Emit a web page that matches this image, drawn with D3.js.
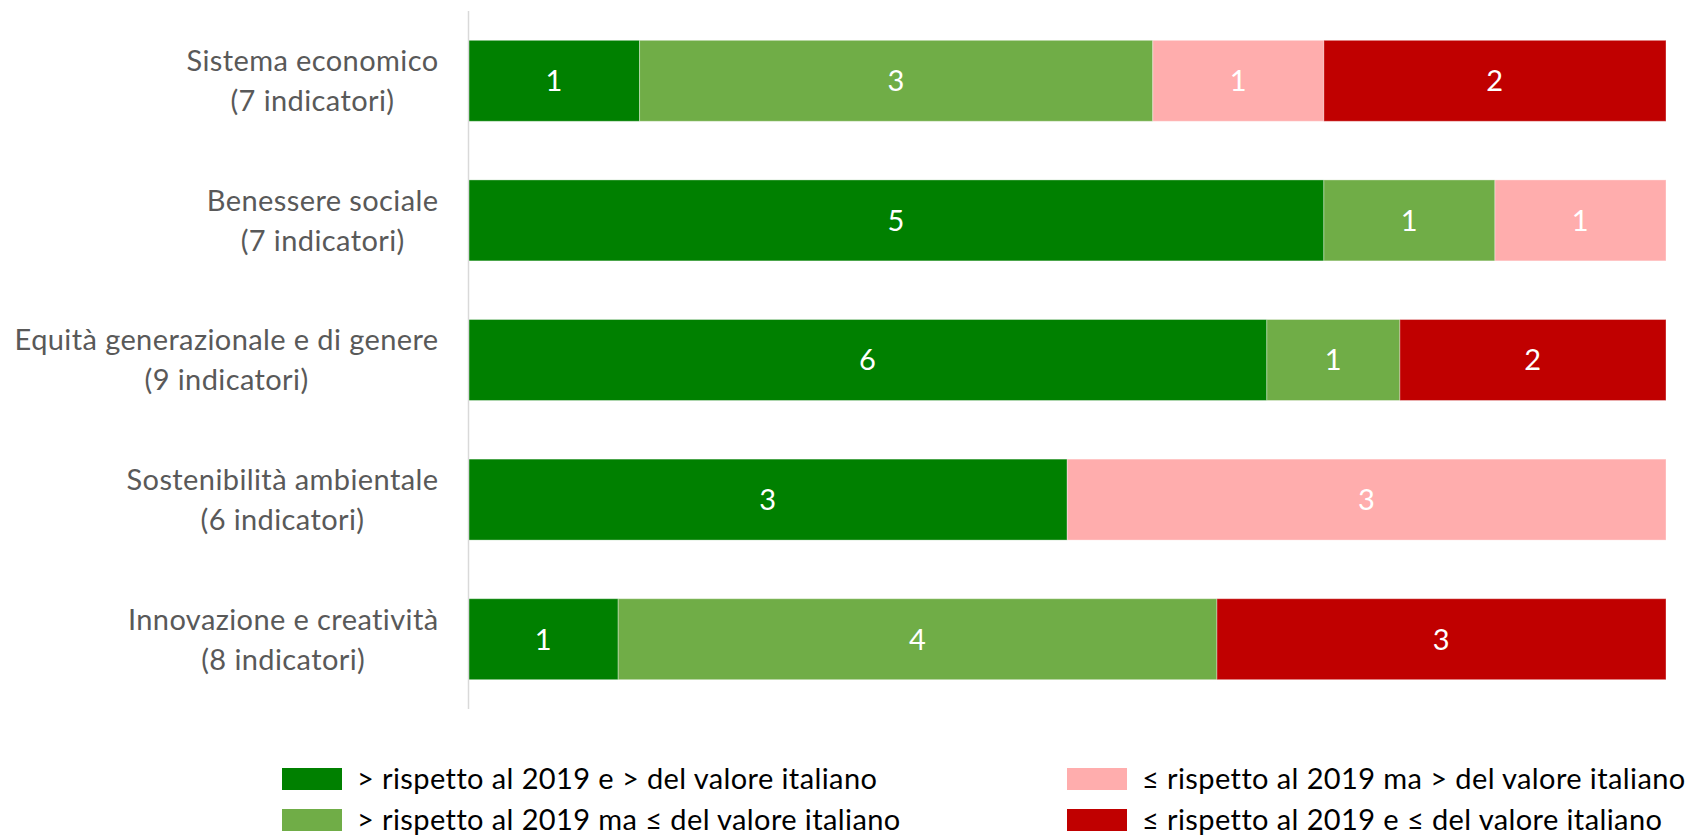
<!DOCTYPE html>
<html>
<head>
<meta charset="utf-8">
<script src="https://cdn.jsdelivr.net/npm/d3@7"></script>
<style>
  body { margin: 0; background: #fff; }
  svg text { font-family: Lato, "Open Sans", sans-serif; font-size: 29px; letter-spacing: 0.4px; }
</style>
</head>
<body>
<div id="chart"></div>
<script>
// dati
const categories = ["Sistema economico", "Benessere sociale", "Equità generazionale e di genere", "Sostenibilità ambientale", "Innovazione e creatività"];
const subLabels = ["(7 indicatori)", "(7 indicatori)", "(9 indicatori)", "(6 indicatori)", "(8 indicatori)"];
const seriesKeys = ["s1", "s2", "s3", "s4"];
const seriesNames = [
    "> rispetto al 2019 e > del valore italiano",
    "> rispetto al 2019 ma ≤ del valore italiano",
    "≤ rispetto al 2019 ma > del valore italiano",
    "≤ rispetto al 2019 e ≤ del valore italiano"
];
const meglioEntrambi = [1, 5, 6, 3, 1];
const meglioSoloTempo = [3, 1, 1, 0, 4];
const meglioSoloItalia = [1, 1, 0, 3, 0];
const peggioEntrambi = [2, 0, 2, 0, 3];
const colors = ["#008000", "#70AD47", "#FFADAD", "#C00000"];

const W = 1685, H = 837;
const margin = { top: 11, right: 19, bottom: 128, left: 468.5 };

const table = categories.map((c, i) => ({
    cat: c, s1: meglioEntrambi[i], s2: meglioSoloTempo[i], s3: meglioSoloItalia[i], s4: peggioEntrambi[i]
}));

const svg = d3.select("#chart").append("svg")
    .attr("width", W).attr("height", H);

const x = d3.scaleLinear().domain([0, 1]).range([margin.left, W - margin.right]);
const y = d3.scaleBand().domain(categories)
    .range([margin.top, H - margin.bottom])
    .paddingInner(0.42).paddingOuter(0.21);
const z = d3.scaleOrdinal().domain(seriesKeys).range(colors);

const stack = d3.stack().keys(seriesKeys).offset(d3.stackOffsetExpand);
const stacked = stack(table);

// barre
const groups = svg.append("g").selectAll("g")
    .data(stacked).join("g")
    .attr("fill", d => z(d.key));

groups.selectAll("rect")
    .data(d => d.filter(p => p[1] - p[0] > 0))
    .join("rect")
    .attr("x", d => x(d[0]))
    .attr("y", d => y(d.data.cat))
    .attr("width", d => x(d[1]) - x(d[0]))
    .attr("height", y.bandwidth())
    .attr("stroke", "#ffffff")
    .attr("stroke-opacity", 0.35)
    .attr("stroke-width", 1);

// etichette valori
groups.selectAll("text")
    .data(d => d.filter(p => p[1] - p[0] > 0).map(p => Object.assign(p, { key: d.key })))
    .join("text")
    .attr("x", d => (x(d[0]) + x(d[1])) / 2)
    .attr("y", d => y(d.data.cat) + y.bandwidth() / 2)
    .attr("dy", "0.36em")
    .attr("text-anchor", "middle")
    .attr("fill", "#fff")
    .text(d => d.data[d.key]);

// asse verticale
svg.append("line")
    .attr("x1", margin.left).attr("x2", margin.left)
    .attr("y1", margin.top).attr("y2", H - margin.bottom)
    .attr("stroke", "#D9D9D9").attr("stroke-width", 1.5);

// etichette categorie (due righe centrate, blocco allineato a destra)
const labelRight = margin.left - 30;
categories.forEach((c, i) => {
    const cy = y(c) + y.bandwidth() / 2;
    const g = svg.append("g");
    const t1 = g.append("text").attr("y", cy - 20).attr("dy", "0.36em")
        .attr("text-anchor", "middle").attr("fill", "#595959")
        .text(c);
    const t2 = g.append("text").attr("y", cy + 20).attr("dy", "0.36em")
        .attr("text-anchor", "middle").attr("fill", "#595959")
        .text(subLabels[i]);
    const maxW = Math.max(t1.node().getComputedTextLength(), t2.node().getComputedTextLength());
    t1.attr("x", labelRight - maxW / 2);
    t2.attr("x", labelRight - maxW / 2);
});

// legenda
const legendCols = [282, 1067];
const legendRows = [779, 820];
const legend = svg.append("g").selectAll("g")
    .data(seriesKeys).join("g")
    .attr("transform", (d, i) => `translate(${legendCols[Math.floor(i / 2)]}, ${legendRows[i % 2]})`);

legend.append("rect")
    .attr("x", 0).attr("y", -11)
    .attr("width", 60).attr("height", 22)
    .attr("fill", d => z(d));

legend.append("text")
    .attr("x", 75).attr("y", 0).attr("dy", "0.36em")
    .attr("fill", "#000")
    .text((d, i) => seriesNames[i]);
</script>
</body>
</html>
